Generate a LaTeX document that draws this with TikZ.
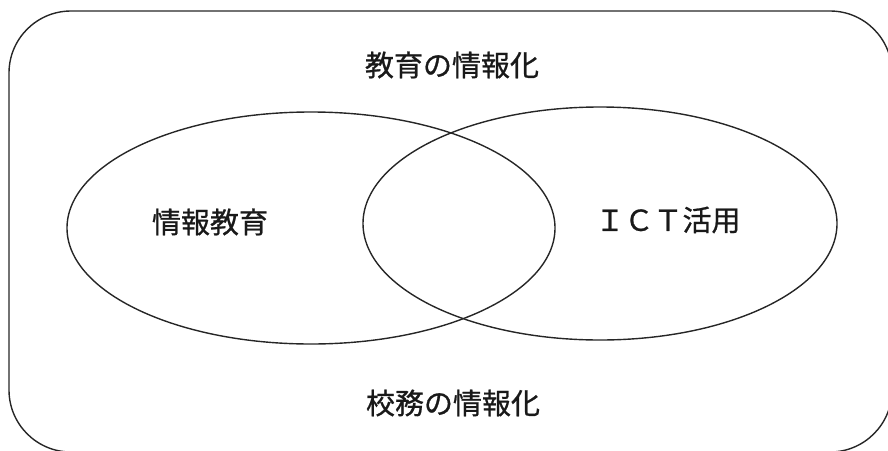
\documentclass[tikz,border=0pt]{standalone}
\usepackage{fontspec}
\newfontfamily\jpfont[FakeBold=0.8]{Noto Sans CJK JP}
\usetikzlibrary{shapes.geometric}
\tikzset{
  line/.style={line width=1.4pt, draw=black!85},
  venn/.style={line, ellipse, inner sep=0pt, outer sep=0pt},
  lbl/.style={font=\jpfont\fontsize{29pt}{32pt}\selectfont, inner sep=0pt, text=black!90}
}
\begin{document}
\begin{tikzpicture}[x=1pt,y=-1pt]
\useasboundingbox (0,0) rectangle (888,450);
\clip (0,0) rectangle (888,450);
\draw[line, rounded corners=62pt] (9,11) rectangle (892,452);
\node[venn, minimum width=488pt, minimum height=232pt] (left) at (311,228) {};
\node[venn, minimum width=474pt, minimum height=233pt] (right) at (600,223.5) {};
\node[lbl] (top) at (452,65) {教育の情報化};
\node[lbl] (bottom) at (453,403) {校務の情報化};
\node[lbl] (edu) at (210,222) {情報教育};
\node[lbl] (ict) at (668,220) {ＩＣＴ活用};
\end{tikzpicture}
\end{document}
